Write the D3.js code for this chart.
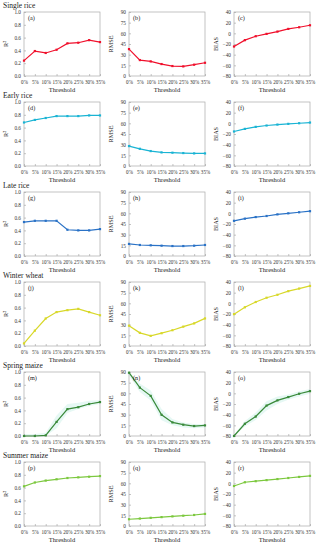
<!DOCTYPE html>
<html><head><meta charset="utf-8">
<script src="https://cdn.jsdelivr.net/npm/d3@7/dist/d3.min.js"></script>
<style>body{margin:0;background:#fff}svg{display:block}</style>
</head><body>
<script>
const thresholds = ["0%","5%","10%","15%","20%","25%","30%","35%"];
const crops = ["Single rice","Early rice","Late rice","Winter wheat","Spring maize","Summer maize"];
const cropColors = ["#f0102c","#1ab4d4","#2a72c6","#d8d82a","#3a8a3a","#7cc83e"];
const metrics = ["R²","RMSE","BIAS"];
const panelLetters = ["a","b","c","d","e","f","g","h","i","j","k","l","m","n","o","p","q","r"];
const r2Ticks = [0,0.2,0.4,0.6,0.8,1.0];
const rmseTicks = [0,15,30,45,60,75,90];
const biasTicks = [-80,-60,-40,-20,0,20,40];

const singleR2   = [0.24,0.39,0.36,0.41,0.51,0.52,0.56,0.53];
const singleRMSE = [37.8,22.4,20.5,16.8,14.0,13.5,15.9,18.6];
const singleBIAS = [-24.7,-12.8,-5.4,-1.0,3.3,8.3,11.4,15.1];
const earlyR2    = [0.68,0.72,0.75,0.78,0.78,0.78,0.79,0.79];
const earlyRMSE  = [28.0,24.2,21.0,19.1,18.7,18.2,17.7,17.7];
const earlyBIAS  = [-15.3,-10.4,-6.6,-4.1,-2.3,-1.0,0.2,1.5];
const lateR2     = [0.53,0.55,0.55,0.55,0.41,0.40,0.40,0.42];
const lateRMSE   = [17.0,15.5,15.0,14.5,14.0,14.0,14.5,15.5];
const lateBIAS   = [-14,-10,-7,-5,-2,0,2,4];
const wheatR2    = [0.04,0.24,0.43,0.53,0.56,0.58,0.53,0.48];
const wheatRMSE  = [28.6,18.5,14.3,18.0,22.2,27.2,31.8,38.8];
const wheatBIAS  = [-20.3,-7.4,2.5,10.5,16.0,22.8,27.7,32.6];
const springR2   = [0.0,0.0,0.01,0.22,0.42,0.45,0.50,0.53];
const springRMSE = [89,68,56.4,29.8,19.1,15.9,14.0,14.9];
const springBIAS = [-80,-57.1,-43.5,-23,-13.2,-7,-0.8,4.1];
const summerR2   = [0.62,0.68,0.71,0.73,0.75,0.76,0.77,0.78];
const summerRMSE = [9.5,10.5,11.5,12.5,13.5,14.5,15.5,17.0];
const summerBIAS = [-5,2,4,6,8,10,12,14];

// faint range band visible behind spring maize lines
const springR2Lo   = [0,0,0,0.12,0.36,0.42,0.47,0.50];
const springR2Hi   = [0.03,0.03,0.05,0.32,0.50,0.52,0.55,0.56];
const springRMSELo = [85,62,50,22,15,12,11,12];
const springRMSEHi = [90,74,64,38,24,19,17,17];
const springBIASLo = [-80,-62,-50,-32,-20,-12,-6,-1];
const springBIASHi = [-78,-52,-36,-15,-6,-2,4,8];

const series = [
  [singleR2,singleRMSE,singleBIAS],
  [earlyR2,earlyRMSE,earlyBIAS],
  [lateR2,lateRMSE,lateBIAS],
  [wheatR2,wheatRMSE,wheatBIAS],
  [springR2,springRMSE,springBIAS],
  [summerR2,summerRMSE,summerBIAS]
];
const bands = {4:[[springR2Lo,springR2Hi],[springRMSELo,springRMSEHi],[springBIASLo,springBIASHi]]};
const tickSets = [r2Ticks, rmseTicks, biasTicks];
const domains = [[0,1],[0,90],[-80,40]];
const tickFmt = [d3.format(".1f"), d3.format("d"), d3.format("d")];

const W = 317, H = 550;
const colX = [24,129,234], pw = 76, ph = 64, rowTop = 12, rowPitch = 90;
const font = "'Liberation Serif','Times New Roman',serif";

const svg = d3.select("body").append("svg").attr("width",W).attr("height",H)
  .style("font-family",font);

crops.forEach((crop,ri)=>{
  const y0 = rowTop + ri*rowPitch;
  svg.append("text").attr("x",3).attr("y",y0-4).attr("font-size",7.5).attr("fill","#222").text(crop);
  metrics.forEach((m,ci)=>{
    const x0 = colX[ci];
    const g = svg.append("g").attr("transform",`translate(${x0},${y0})`);
    const x = d3.scalePoint().domain(thresholds).range([0,pw]);
    const y = d3.scaleLinear().domain(domains[ci]).range([ph,0]);
    const vals = series[ri][ci];
    if (bands[ri]) {
      const [lo,hi] = bands[ri][ci];
      g.append("path").datum(thresholds.map((t,i)=>({t,lo:lo[i],hi:hi[i]})))
        .attr("d", d3.area().x(d=>x(d.t)).y0(d=>y(d.lo)).y1(d=>y(d.hi)))
        .attr("fill","#e6f8f4").attr("stroke","none");
    }
    const ya = g.append("g").call(d3.axisLeft(y).tickValues(tickSets[ci]).tickFormat(tickFmt[ci]).tickSize(-2).tickPadding(3));
    ya.select(".domain").remove();
    ya.selectAll("line").attr("stroke","#888").attr("stroke-width",0.5);
    ya.selectAll("text").attr("font-size",5.3).attr("fill","#333").style("font-family",font);
    const xa = g.append("g").attr("transform",`translate(0,${ph})`)
      .call(d3.axisBottom(x).tickSize(-2).tickPadding(4));
    xa.select(".domain").remove();
    xa.selectAll("line").attr("stroke","#888").attr("stroke-width",0.5);
    xa.selectAll("text").attr("font-size",5.1).attr("fill","#333").style("font-family",font);
    g.append("rect").attr("width",pw).attr("height",ph).attr("fill","none").attr("stroke","#aaa").attr("stroke-width",0.7);
    const data = thresholds.map((t,i)=>({t,v:vals[i]}));
    g.append("path").datum(data)
      .attr("d", d3.line().x(d=>x(d.t)).y(d=>y(d.v)))
      .attr("fill","none").attr("stroke",cropColors[ri]).attr("stroke-width",1.2);
    g.selectAll("rect.pt").data(data).enter().append("rect").attr("class","pt")
      .attr("x",d=>x(d.t)-1.1).attr("y",d=>y(d.v)-1.1).attr("width",2.2).attr("height",2.2)
      .attr("fill",cropColors[ri]);
    g.append("text").attr("x",4).attr("y",8).attr("font-size",6.2).attr("fill","#222")
      .text(`(${panelLetters[ri*3+ci]})`);
    g.append("text").attr("x",pw/2).attr("y",ph+16).attr("text-anchor","middle")
      .attr("font-size",6.5).attr("fill","#222").text("Threshold");
    g.append("text").attr("transform",`translate(-16,${ph/2}) rotate(-90)`).attr("text-anchor","middle")
      .attr("font-size",6.2).attr("fill","#222").text(m);
  });
});
</script>
</body></html>
